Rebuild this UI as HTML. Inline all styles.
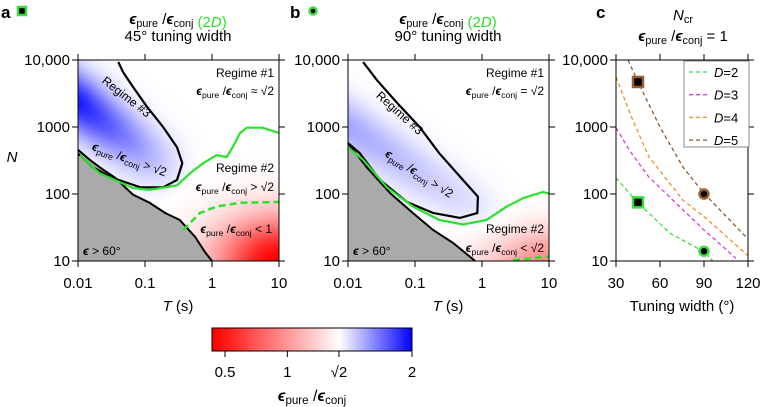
<!DOCTYPE html>
<html><head><meta charset="utf-8">
<style>
html,body{margin:0;padding:0;background:#fff;}
#wrap{position:relative;width:762px;height:407px;overflow:hidden;font-family:"Liberation Sans",sans-serif;}
canvas,svg{position:absolute;left:0;top:0;}
text{font-family:"Liberation Sans","DejaVu Sans",sans-serif;}
</style></head>
<body>
<div id="wrap">
<canvas id="cv" width="762" height="407"></canvas>
<svg id="sv" width="762" height="407" xmlns="http://www.w3.org/2000/svg"></svg>
</div>
<script>
// ---------- data ----------
const xTickVals = [0.01, 0.1, 1, 10];
const xTickLabels = ["0.01", "0.1", "1", "10"];
const yTickVals = [10, 100, 1000, 10000];
const yTickLabels = ["10", "100", "1000", "10,000"];
// panel a
const aGreyT = [0.01,0.015,0.021,0.036,0.066,0.117,0.20,0.33,0.56,0.79,1];
const aGreyN = [457,324,251,174,98,74,52,41,23,13.5,10];
const aGreenT = [0.0107,0.021,0.066,0.117,0.30,0.47,0.74,1.17,1.66,2.04,2.63,3.3,5.7,10];
const aGreenN = [380,204,123,115,135,204,288,380,355,501,813,977,977,813];
const aLoopT = [0.040,0.047,0.066,0.107,0.186,0.30,0.36,0.30,0.186,0.085,0.033,0.0166,0.0118,0.01];
const aLoopN = [9330,6610,3980,2000,1000,500,288,162,126,126,174,251,347,398];
const aDashT = [0.37,0.66,1.17,2.63,10];
const aDashN = [29,52,65,74,76];
// panel b
const bGreyT = [0.01,0.019,0.043,0.093,0.186,0.37,0.79];
const bGreyN = [575,251,102,52,29,18.6,10];
const bGreenT = [0.01,0.0168,0.038,0.093,0.23,0.52,1.17,2.35,4.1,8.1,10];
const bGreenN = [500,324,126,65,41,35,41,65,87,107,102];
const bLoopT = [0.0168,0.027,0.054,0.117,0.23,0.52,0.87,0.85,0.47,0.186,0.076,0.030,0.015,0.01];
const bLoopN = [9330,5010,2290,1000,407,162,91,52,44,52,76,162,407,575];
const bDashT = [2.9,10];
const bDashN = [10.3,11.7];
// panel c
const cXTicks = [30,60,90,120];
const cDims = ["D=2","D=3","D=4","D=5"];
const cColors = ["#3ddc3d","#d83ad8","#f0902a","#8a5a30"];
const cW = [[30,45,66.8,90,96],[30,40,52.5,66.8,90,111.8],[30,40,52.5,75.7,90,120],[38.2,45,60,75.7,90,118.6]];
const cN = [[174,74,26,13.7,10],[970,420,178,89,29,11],[5600,1500,355,81,46,12],[10000,4700,1000,251,102,23]];
const markW = [45,90,45,90];
const markN = [75,14,4700,100];
const markShape = ["square","circle","square","circle"];
const markColor = ["#3ddc3d","#3ddc3d","#9a6030","#9a6030"];
// colorbar
const cbTickVals = [0.5,1,Math.SQRT2,2];
const cbTickLabels = ["0.5","1","√2","2"];

// ---------- scales ----------
const PY0=60, PY1=261;
function yScale(N){return PY0 + (4-Math.log10(N))*(PY1-PY0)/3;}
function xScaleA(T){return 78 + (Math.log10(T)+2)*67;}
function xScaleB(T){return 348 + (Math.log10(T)+2)*67;}
function xScaleC(w){return 616 + (w-30)*(748-616)/90;}
function cbScale(v){return 225 + (v-0.5)*(412-225)/1.5;}

const NS="http://www.w3.org/2000/svg";
const svg=document.getElementById('sv');
function el(tag,attrs,parent){const e=document.createElementNS(NS,tag);for(const k in attrs)e.setAttribute(k,attrs[k]);(parent||svg).appendChild(e);return e;}

// ---------- heatmap ----------
function valColor(v){
  const s=Math.SQRT2;
  if(v<s){let t=Math.min(1,(s-v)/(s-0.4));return [255,Math.round(255*(1-t)),Math.round(255*(1-t))];}
  let t=Math.min(1,(v-s)/(2-s));return [Math.round(255*(1-t)),Math.round(255*(1-t)),255];
}
function ridge(lx,ly,x0,y0,x1,y1,w){
  const dx=x1-x0,dy=y1-y0,L2=dx*dx+dy*dy;
  let t=((lx-x0)*dx+(ly-y0)*dy)/L2;
  const px=x0+t*dx,py=y0+t*dy;
  const d2=(lx-px)**2+(ly-py)**2;
  return {g:Math.exp(-d2/w),t:t};
}
function fieldA(lx,ly){
  const r=ridge(lx,ly,-2,3.35,-0.8,2.45,0.16);
  const blue=r.g*Math.max(0,Math.min(1,1-0.75*r.t));
  const red=Math.exp(-((1-lx)**2/0.9+(ly-1)**2/0.45));
  return Math.SQRT2+(2-Math.SQRT2)*blue*0.9-(Math.SQRT2-0.4)*red;
}
function fieldB(lx,ly){
  const r=ridge(lx,ly,-2,3.0,-0.3,1.9,0.14);
  const blue=r.g*Math.max(0,Math.min(1,1-0.6*r.t))*0.35;
  const red=Math.exp(-((1-lx)**2/0.9+(ly-1)**2/0.25))*0.45;
  return Math.SQRT2+(2-Math.SQRT2)*blue-(Math.SQRT2-0.4)*red;
}
const ctx=document.getElementById('cv').getContext('2d');
function drawHeat(x0,field){
  const img=ctx.createImageData(201,201);
  for(let j=0;j<201;j++){for(let i=0;i<201;i++){
    const lx=i/67-2, ly=4-j/67;
    const c=valColor(field(lx,ly));const k=(j*201+i)*4;
    img.data[k]=c[0];img.data[k+1]=c[1];img.data[k+2]=c[2];img.data[k+3]=255;}}
  ctx.putImageData(img,x0,PY0);
}
drawHeat(78,fieldA);drawHeat(348,fieldB);
(function(){const img=ctx.createImageData(200,23);
  for(let i=0;i<200;i++){const v=0.5+(212+i-225)*1.5/(412-225);const c=valColor(v);
    for(let j=0;j<23;j++){const k=(j*200+i)*4;img.data[k]=c[0];img.data[k+1]=c[1];img.data[k+2]=c[2];img.data[k+3]=255;}}
  ctx.putImageData(img,212,328);})();

// ---------- helpers ----------
function pathFrom(xs,ys,xf,yf){return xs.map((x,i)=>(i?'L':'M')+xf(x).toFixed(1)+','+yf(ys[i]).toFixed(1)).join(' ');}
function eps(parent,x,y,size,anchor,rot,extra){
  const t=el('text',{x:x,y:y,'font-size':size,'text-anchor':anchor||'middle',fill:'#000'},parent);
  if(rot)t.setAttribute('transform','rotate('+rot+' '+x+' '+y+')');
  t.innerHTML='<tspan font-weight="bold" font-style="italic">ϵ</tspan><tspan font-size="'+(size*0.72)+'" dy="3">pure</tspan><tspan dy="-3"> /</tspan><tspan font-weight="bold" font-style="italic">ϵ</tspan><tspan font-size="'+(size*0.72)+'" dy="3">conj</tspan><tspan dy="-3">'+(extra||'')+'</tspan>';
  return t;
}

function panel(name,xf,greyT,greyN,greenT,greenN,loopT,loopN,dashT,dashN,x0){
  const g=el('g',{});
  
  
  const x1=x0+201;
  const gp=el('path',{d:pathFrom(greyT,greyN,xf,yScale)+' L'+x0+','+PY1+' Z',fill:'#aaaaaa',stroke:'none'},g);
  
  
  const gl=el('path',{d:pathFrom(greyT,greyN,xf,yScale),fill:'none',stroke:'#000','stroke-width':2},g);
  
  
  const lp=el('path',{d:pathFrom(loopT,loopN,xf,yScale),fill:'none',stroke:'#000','stroke-width':2.2},g);
  
  
  const gr=el('path',{d:pathFrom(greenT,greenN,xf,yScale),fill:'none',stroke:'#2ee02e','stroke-width':2.2},g);
  
  
  const dp=el('path',{d:pathFrom(dashT,dashN,xf,yScale),fill:'none',stroke:'#2ee02e','stroke-width':2.5,'stroke-dasharray':'7,4'},g);
  
  
  el('rect',{x:x0,y:PY0,width:201,height:201,fill:'none',stroke:'#000','stroke-width':1},g);
  xTickVals.forEach((v,i)=>{const x=xf(v);
    el('line',{x1:x,x2:x,y1:PY1,y2:PY1+6,stroke:'#000'},g);
    el('line',{x1:x,x2:x,y1:PY0,y2:PY0-6,stroke:'#000'},g);
    const t=el('text',{x:x,y:288,'font-size':15,'text-anchor':'middle'},g);t.textContent=xTickLabels[i];
    
    });
  yTickVals.forEach((v,i)=>{const y=yScale(v);
    el('line',{x1:x0-6,x2:x0,y1:y,y2:y,stroke:'#000'},g);
    el('line',{x1:x1,x2:x1+6,y1:y,y2:y,stroke:'#000'},g);
    const t=el('text',{x:x0-8,y:y+5,'font-size':15,'text-anchor':'end'},g);t.textContent=yTickLabels[i];
    
    });
  const xt=el('text',{x:x0+100,y:311,'font-size':15,'text-anchor':'middle'},g);
  xt.innerHTML='<tspan font-style="italic">T</tspan> (s)';
  
  
  const e60=el('text',{x:x0+5,y:255,'font-size':12},g);
  e60.innerHTML='<tspan font-weight="bold" font-style="italic">ϵ</tspan> &gt; 60°';
  return g;
}
const ga=panel('a',xScaleA,aGreyT,aGreyN,aGreenT,aGreenN,aLoopT,aLoopN,aDashT,aDashN,78);
const gb=panel('b',xScaleB,bGreyT,bGreyN,bGreenT,bGreenN,bLoopT,bLoopN,bDashT,bDashN,348);

let t;
t=el('text',{x:274,y:77,'font-size':12,'text-anchor':'end'},ga);t.textContent='Regime #1';
eps(ga,274,95,12,'end',0,' ≈ √2');
t=el('text',{x:274,y:172,'font-size':12,'text-anchor':'end'},ga);t.textContent='Regime #2';
eps(ga,274,191,12,'end',0,' > √2');
eps(ga,272,233,12,'end',0,' < 1');
t=el('text',{x:124,y:100,'font-size':12,'text-anchor':'middle',transform:'rotate(38 124 100)'},ga);t.textContent='Regime #3';
eps(ga,128,163,12,'middle',20,' > √2');
t=el('text',{x:544,y:77,'font-size':12,'text-anchor':'end'},gb);t.textContent='Regime #1';
eps(gb,544,95,12,'end',0,' = √2');
t=el('text',{x:544,y:233,'font-size':12,'text-anchor':'end'},gb);t.textContent='Regime #2';
eps(gb,544,252,12,'end',0,' < √2');
t=el('text',{x:397,y:116,'font-size':12,'text-anchor':'middle',transform:'rotate(42 397 116)'},gb);t.textContent='Regime #3';
eps(gb,417,177,12,'middle',33,' > √2');

function title(cx,sub){
  eps(svg,cx,24,15,'middle',0,'').innerHTML+='<tspan fill="#2ee02e"> (2<tspan font-style="italic">D</tspan>)</tspan>';
  const s=el('text',{x:cx,y:41,'font-size':15,'text-anchor':'middle'});s.textContent=sub;
}
title(178,'45° tuning width');
title(448,'90° tuning width');
t=el('text',{x:1,y:18,'font-size':17,'font-weight':'bold'});t.textContent='a';


el('rect',{x:18,y:7,width:8,height:8,fill:'#000',stroke:'#3ddc3d','stroke-width':2.5});
t=el('text',{x:290,y:18,'font-size':17,'font-weight':'bold'});t.textContent='b';
el('circle',{cx:313,cy:11,r:3.5,fill:'#000',stroke:'#3ddc3d','stroke-width':2.5});
t=el('text',{x:596,y:18,'font-size':17,'font-weight':'bold'});t.textContent='c';
t=el('text',{x:12,y:162,'font-size':15,'font-style':'italic','text-anchor':'middle'});t.textContent='N';



// ---------- panel c ----------
const gc=el('g',{});


t=el('text',{x:683,y:20,'font-size':15,'text-anchor':'middle'},gc);
t.innerHTML='<tspan font-style="italic">N</tspan><tspan font-size="11" dy="3">cr</tspan>';
eps(gc,683,41,15,'middle',0,' = 1');
const cg=el('g',{},gc);
cN.forEach((ns,k)=>{
  const p=el('path',{d:pathFrom(cW[k],ns,xScaleC,yScale),fill:'none',stroke:cColors[k],'stroke-width':1.3,'stroke-dasharray':'4,3'},cg);
  
  
});
el('rect',{x:616,y:PY0,width:132,height:201,fill:'none',stroke:'#000'},gc);
markW.forEach((w,k)=>{
  const x=xScaleC(w),y=yScale(markN[k]);let m;
  if(markShape[k]==='square')m=el('rect',{x:x-5,y:y-5,width:10,height:10,fill:'#000',stroke:markColor[k],'stroke-width':2.5},gc);
  else m=el('circle',{cx:x,cy:y,r:4.5,fill:'#000',stroke:markColor[k],'stroke-width':2.5},gc);
  
  
});
cXTicks.forEach(v=>{const x=xScaleC(v);
  el('line',{x1:x,x2:x,y1:PY1,y2:PY1+6,stroke:'#000'},gc);
  el('line',{x1:x,x2:x,y1:PY0,y2:PY0-6,stroke:'#000'},gc);
  const tt=el('text',{x:x,y:288,'font-size':15,'text-anchor':'middle'},gc);tt.textContent=String(v);
  
  });
yTickVals.forEach((v,i)=>{const y=yScale(v);
  el('line',{x1:610,x2:616,y1:y,y2:y,stroke:'#000'},gc);
  el('line',{x1:748,x2:754,y1:y,y2:y,stroke:'#000'},gc);
  const tt=el('text',{x:608,y:y+5,'font-size':15,'text-anchor':'end'},gc);tt.textContent=yTickLabels[i];});
t=el('text',{x:682,y:311,'font-size':15,'text-anchor':'middle'},gc);t.textContent='Tuning width (°)';


const lg=el('g',{},gc);


el('rect',{x:684,y:61,width:65,height:86,fill:'#fff',stroke:'#888','stroke-width':1},lg);
cDims.forEach((d,k)=>{const y=72+k*22.7;
  const le=el('g',{},lg);
  
  
  el('line',{x1:689,x2:710,y1:y,y2:y,stroke:cColors[k],'stroke-width':1.3,'stroke-dasharray':'4,3'},le);
  const tt=el('text',{x:714,y:y+5,'font-size':13},le);
  tt.innerHTML='<tspan font-style="italic">D</tspan>=' + d.split('=')[1];
});

// ---------- colorbar ----------
const cb=el('g',{});


el('rect',{x:212,y:328,width:200,height:23,fill:'none',stroke:'#000'},cb);
cbTickVals.forEach((v,i)=>{const x=cbScale(v);
  el('line',{x1:x,x2:x,y1:351,y2:357,stroke:'#000'},cb);
  const tt=el('text',{x:x,y:377,'font-size':15,'text-anchor':'middle'},cb);tt.textContent=cbTickLabels[i];
  
  });
eps(cb,312,401,16,'middle',0,'');
</script>
</body></html>
